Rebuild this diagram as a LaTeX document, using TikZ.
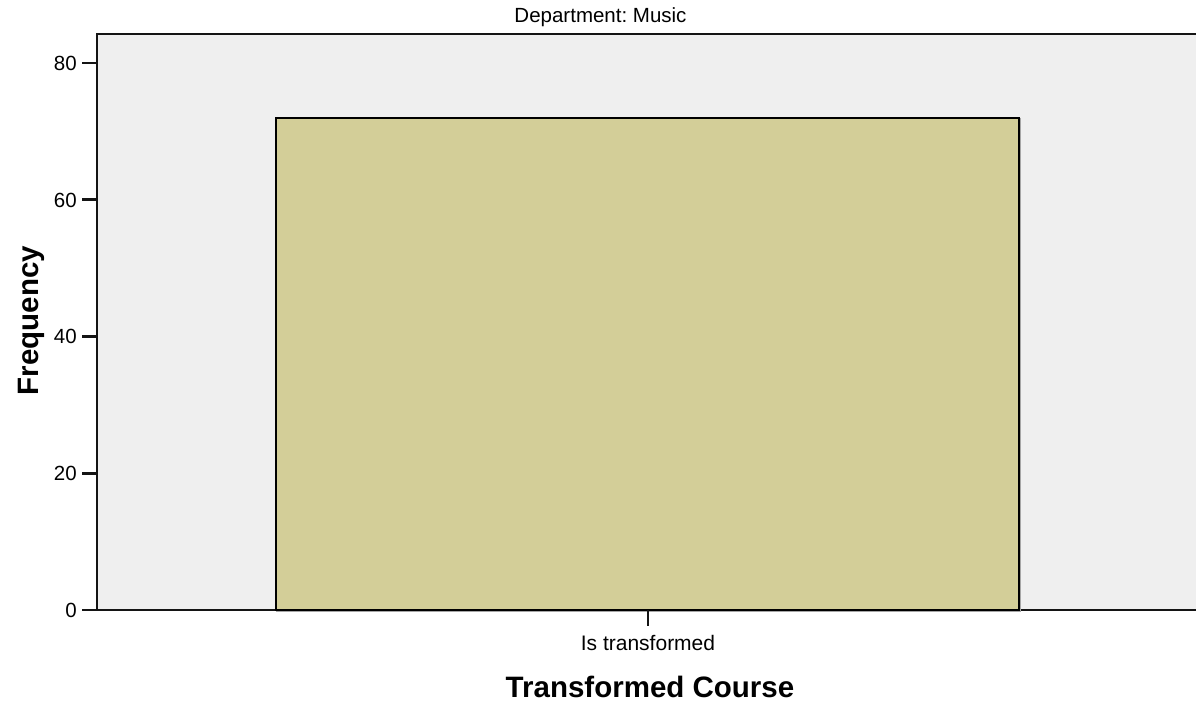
\documentclass[tikz,border=0pt]{standalone}
\usepackage{fontspec}
\setmainfont{Liberation Sans}
\frenchspacing
\definecolor{plotbg}{RGB}{239,239,239}
\definecolor{barfill}{RGB}{211,206,152}
\definecolor{axisline}{RGB}{20,20,20}
\begin{document}
\begin{tikzpicture}[x=1pt,y=-1pt,
  ticklab/.style={font=\fontsize{20.5}{24}\selectfont, inner sep=0pt, anchor=base east},
  tickmark/.style={draw=axisline, line width=2.6pt},
  axislab/.style={font=\fontsize{29.5}{34}\selectfont\bfseries, inner sep=0pt, anchor=base},
  plain/.style={font=\fontsize{21}{24}\selectfont, inner sep=0pt, anchor=base}]
\useasboundingbox (0,0) rectangle (1196,704);
% plot area
\fill[plotbg] (97,34) rectangle (1196,610);
\draw[axisline, line width=1.5pt] (1196,34) -- (97,34) -- (97,610) -- (1196,610);
% bar with faint shadow
\draw[gray!70, line width=2.8pt] (277,611) rectangle (1020,119);
\draw[fill=barfill, draw=black, line width=2.8pt] (276,610) rectangle (1019,118);
% y ticks
\foreach \v/\yy in {0/610,20/473.25,40/336.5,60/199.75,80/63}{
  \draw[tickmark] (82,\yy) -- (97,\yy);
  \node[ticklab] (t\v) at (77,\yy+7.4) {\v};
}
% x tick
\draw[tickmark] (648,610) -- (648,626);
\node[plain] (xlab) at (648,650) {Is transformed};
% titles
\node[plain, font=\fontsize{20.5}{23}\selectfont] (title) at (600.5,22.5) {Department: Music};
\node[axislab] (xtitle) at (650,697) {Transformed Course};
\node[axislab, rotate=90] (ytitle) at (38,320.5) {Frequency};
\end{tikzpicture}
\end{document}
